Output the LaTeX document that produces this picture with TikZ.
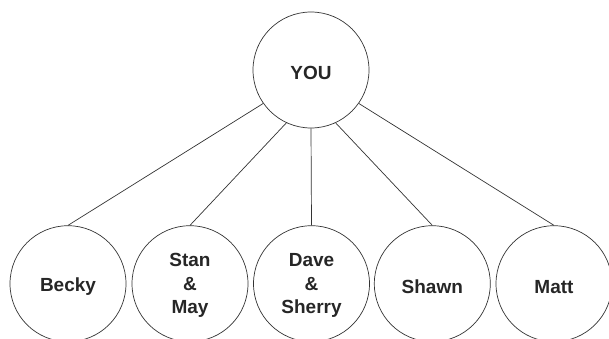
\documentclass[tikz,border=0pt]{standalone}
\usepackage{fontspec}
\setmainfont{Liberation Sans}
\begin{document}
\begin{tikzpicture}[x=1pt,y=1pt,
  person/.style={circle,draw=black!80,line width=0.7pt,minimum size=116pt,inner sep=0pt},
  ptext/.style={font=\bfseries\fontsize{19}{23.5}\selectfont,text=black!85,align=center,inner sep=0pt},
  link/.style={draw=black!80,line width=0.7pt}]
\useasboundingbox (0,0) rectangle (609,338);
\node[person] (you) at (311,268) {};
\node[person] (becky) at (68,54.3) {};
\node[person] (stan) at (190,54.3) {};
\node[person] (dave) at (311.5,54.3) {};
\node[person] (shawn) at (432.3,54.3) {};
\node[person] (matt) at (554,54.3) {};
\node[ptext] (you-t) at ([yshift=-3]you) {YOU};
\node[ptext] (becky-t) at ([yshift=-3]becky) {Becky};
\node[ptext] (stan-t) at ([yshift=-2]stan) {Stan\\\&\\May};
\node[ptext] (dave-t) at ([yshift=-2]dave) {Dave\\\&\\Sherry};
\node[ptext] (shawn-t) at ([yshift=-3]shawn) {Shawn};
\node[ptext] (matt-t) at ([yshift=-3]matt) {Matt};
\draw[link] (you.215) -- (becky.north);
\draw[link] (you.245) -- (stan.north);
\draw[link] (you.270) -- (dave.north);
\draw[link] (you.295) -- (shawn.north);
\draw[link] (you.325) -- (matt.north);
\end{tikzpicture}
\end{document}
